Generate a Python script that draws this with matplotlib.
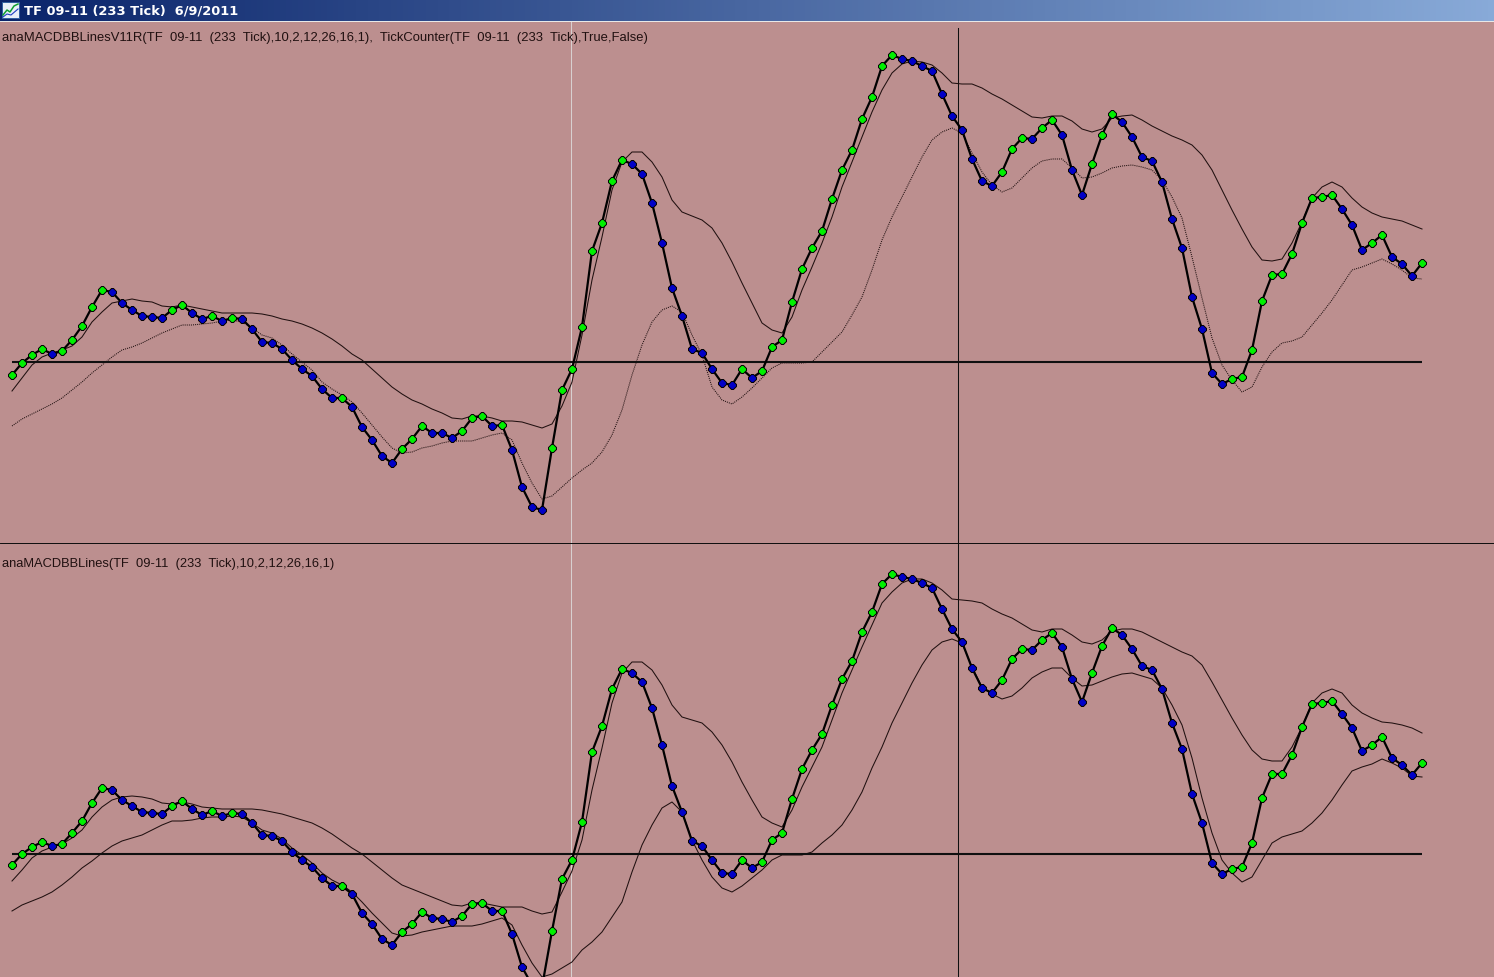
import numpy as np
import matplotlib
matplotlib.use('Agg')
import matplotlib.pyplot as plt
from matplotlib.colors import LinearSegmentedColormap
from matplotlib.patches import Rectangle

# Values (screen scale, bigger = lower on the chart)
macd_top = [375, 363, 355, 349, 354, 351, 340, 326, 307, 290, 292, 303, 310, 316, 317, 318, 310, 305, 313, 319,
            316, 321, 318, 319, 329, 342, 343, 349, 360, 369, 376, 389, 398, 398, 407, 427, 440, 456, 463, 449,
            439, 426, 433, 433, 438, 431, 418, 416, 426, 425, 450, 487, 507, 510, 448, 390, 369, 327, 251, 223,
            181, 160, 164, 174, 203, 243, 288, 316, 349, 353, 369, 383, 385, 369, 378, 371, 347, 340, 302, 269,
            248, 231, 199, 170, 150, 119, 97, 66, 55, 59, 61, 66, 71, 94, 116, 130, 159, 181, 186, 172,
            149, 138, 139, 128, 120, 135, 170, 195, 164, 135, 114, 122, 137, 157, 161, 182, 219, 248, 297, 329,
            373, 384, 379, 377, 350, 301, 275, 274, 254, 223, 198, 197, 195, 209, 225, 250, 243, 235, 257, 264,
            276, 263]
upper_top = [391, 378, 365, 357, 353, 350, 346, 337, 322, 312, 303, 301, 299, 301, 302, 306, 307, 305, 307, 309,
             311, 313, 313, 313, 313, 314, 316, 319, 321, 324, 328, 333, 339, 346, 354, 360, 369, 378, 387, 394,
             400, 404, 409, 413, 418, 419, 416, 416, 418, 421, 421, 422, 425, 428, 424, 406, 382, 335, 280, 237,
             190, 162, 152, 152, 162, 177, 200, 212, 216, 220, 228, 243, 262, 283, 303, 323, 330, 333, 317, 290,
             267, 243, 217, 187, 162, 137, 112, 90, 73, 64, 61, 62, 65, 73, 83, 84, 84, 88, 94, 99,
             105, 111, 117, 118, 116, 116, 121, 129, 132, 129, 118, 116, 115, 120, 126, 131, 136, 140, 145, 155,
             170, 190, 210, 229, 247, 260, 261, 259, 243, 222, 198, 187, 182, 187, 198, 207, 213, 217, 219, 221,
             225, 229]
lower_top = [426, 419, 414, 409, 404, 398, 390, 382, 373, 365, 357, 350, 347, 343, 338, 333, 329, 325, 325, 324,
             323, 321, 320, 322, 328, 335, 338, 345, 354, 362, 370, 382, 389, 395, 402, 413, 425, 437, 448, 453,
             452, 448, 446, 443, 441, 441, 441, 438, 435, 433, 440, 463, 483, 499, 496, 487, 478, 470, 463, 452,
             435, 410, 375, 345, 322, 310, 306, 312, 335, 355, 387, 400, 404, 397, 388, 378, 368, 363, 363, 363,
             362, 352, 342, 332, 315, 297, 270, 240, 217, 197, 177, 157, 140, 132, 128, 133, 153, 172, 185, 192,
             188, 178, 168, 161, 159, 159, 168, 178, 177, 173, 168, 166, 165, 167, 170, 180, 197, 218, 257, 298,
             338, 365, 380, 392, 387, 367, 352, 343, 341, 337, 325, 313, 300, 285, 270, 267, 263, 259, 264, 270,
             278, 279]

macd_bot = [865, 854, 847, 842, 846, 844, 833, 821, 803, 788, 790, 800, 806, 812, 813, 814, 806, 801, 809, 815,
            811, 816, 813, 814, 823, 835, 836, 841, 852, 860, 867, 878, 886, 886, 894, 913, 924, 939, 945, 932,
            924, 912, 918, 919, 922, 916, 904, 903, 911, 911, 934, 967, 985, 987, 931, 879, 860, 822, 752, 726,
            689, 669, 673, 682, 708, 745, 786, 812, 841, 846, 860, 873, 874, 860, 868, 862, 840, 833, 799, 769,
            750, 734, 705, 679, 661, 632, 612, 584, 574, 577, 579, 583, 588, 609, 629, 642, 668, 688, 693, 680,
            659, 649, 650, 640, 633, 647, 679, 702, 673, 646, 628, 635, 649, 666, 670, 689, 723, 749, 794, 823,
            863, 874, 869, 867, 843, 798, 774, 774, 755, 727, 704, 703, 701, 714, 728, 751, 745, 737, 758, 765,
            775, 763]
upper_bot = [881, 870, 858, 851, 847, 844, 838, 830, 817, 807, 800, 797, 796, 797, 799, 803, 804, 802, 804, 807,
             808, 809, 809, 809, 809, 810, 812, 814, 817, 820, 823, 828, 834, 841, 848, 854, 862, 870, 878, 885,
             889, 893, 897, 901, 905, 906, 903, 903, 905, 907, 907, 907, 911, 914, 912, 892, 871, 840, 790, 748,
             703, 673, 662, 662, 670, 685, 705, 717, 720, 723, 732, 745, 762, 782, 800, 817, 823, 827, 810, 787,
             767, 747, 720, 693, 670, 647, 625, 603, 592, 583, 579, 579, 583, 590, 599, 600, 601, 603, 609, 614,
             618, 624, 630, 632, 629, 629, 635, 642, 644, 640, 631, 629, 629, 632, 637, 642, 647, 652, 656, 665,
             682, 700, 718, 735, 750, 759, 761, 761, 747, 727, 703, 693, 689, 693, 705, 713, 718, 722, 723, 725,
             728, 733]
lower_bot = [911, 905, 901, 897, 892, 885, 877, 868, 861, 853, 846, 841, 838, 835, 830, 825, 821, 821, 820, 818,
             817, 817, 816, 817, 823, 830, 833, 839, 848, 855, 863, 873, 880, 885, 892, 902, 913, 923, 933, 936,
             935, 932, 930, 928, 926, 926, 926, 924, 921, 918, 925, 945, 963, 977, 974, 968, 962, 950, 942, 932,
             917, 902, 872, 845, 825, 808, 802, 812, 840, 860, 877, 888, 892, 886, 878, 870, 860, 855, 855, 855,
             852, 843, 835, 825, 810, 792, 768, 747, 723, 703, 683, 665, 650, 642, 639, 643, 667, 687, 694, 699,
             696, 688, 678, 672, 668, 668, 678, 686, 685, 681, 677, 674, 673, 676, 679, 688, 705, 725, 758, 798,
             833, 860, 873, 882, 877, 860, 843, 837, 834, 831, 823, 813, 800, 785, 771, 767, 764, 759, 763, 768,
             776, 777]

# bars where the MACD dot is green, the others are blue
green_bars = [0, 1, 2, 3, 5, 6, 7, 8, 9, 16, 17, 20, 22, 33, 39, 40, 41, 45, 46, 47, 49, 54, 55, 56, 57, 58, 59, 60, 61,
              73, 75, 76, 77, 78, 79, 80, 81, 82, 83, 84, 85, 86, 87, 88, 99, 100, 101, 103, 104, 108, 109, 110,
              122, 123, 124, 125, 126, 127, 128, 129, 130, 131, 132, 136, 137, 141]

title_text = 'TF 09-11 (233 Tick)  6/9/2011'
label_top = 'anaMACDBBLinesV11R(TF  09-11  (233  Tick),10,2,12,26,16,1),  TickCounter(TF  09-11  (233  Tick),True,False)'
label_bot = 'anaMACDBBLines(TF  09-11  (233  Tick),10,2,12,26,16,1)'

zero_top = 362
zero_bot = 854
cursor_bar = 94.6
light_bar = 55.9

W, H = 1494, 977
BG = '#BC8F8F'
GREEN = '#00F000'
BLUE = '#0000C8'

bars = np.arange(len(macd_top))
is_green = np.isin(bars, green_bars)

fig = plt.figure(figsize=(W / 100, H / 100), dpi=100, facecolor=BG)


def panel(y0, y1):
    # one pane, x in bars and y on the screenshot scale
    ax = fig.add_axes([0, 1 - y1 / H, 1, (y1 - y0) / H])
    ax.set_xlim(-1.2, 148.2)
    ax.set_ylim(y1, y0)
    ax.set_facecolor(BG)
    ax.axis('off')
    return ax


def draw_pane(ax, macd, upper, lower, zero, lower_style):
    macd = np.array(macd)
    ax.plot(bars, lower, color='#201010', lw=0.75, ls=lower_style, zorder=2)
    ax.plot(bars, upper, color='#201010', lw=0.75, zorder=2)
    ax.plot([0, 141], [zero, zero], color='#101010', lw=1.5, zorder=3, solid_capstyle='butt')
    ax.plot(bars, macd, color='black', lw=1.6, zorder=4)
    ax.plot(bars[is_green], macd[is_green], ls='none', marker='8', ms=5.6, mfc=GREEN, mec='black', mew=0.7, zorder=5)
    ax.plot(bars[~is_green], macd[~is_green], ls='none', marker='8', ms=5.6, mfc=BLUE, mec='black', mew=0.7, zorder=5)


ax_top = panel(22, 543)
ax_bot = panel(544, 977)

draw_pane(ax_top, macd_top, upper_top, lower_top, zero_top, (0, (1, 1)))
draw_pane(ax_bot, macd_bot, upper_bot, lower_bot, zero_bot, '-')

# crosshair and the light cursor line go over both panes
for ax in (ax_top, ax_bot):
    ax.axvline(light_bar, color='#D8D0D0', lw=0.75, zorder=1)
ax_top.plot([cursor_bar, cursor_bar], [28, 543], color='#101010', lw=0.75, zorder=1)
ax_bot.axvline(cursor_bar, color='#101010', lw=0.75, zorder=1)

# separator between panes
sep = fig.add_axes([0, 1 - 544 / H, 1, 1 / H])
sep.axis('off')
sep.add_patch(Rectangle((0, 0), 1, 1, color='#101010', transform=sep.transAxes))

ax_top.text(2 / W, 1 - 16 / 521, label_top, transform=ax_top.transAxes, fontsize=9.35,
            family='Liberation Sans', color='#201010', va='center', ha='left')
ax_bot.text(2 / W, 1 - 20 / 433, label_bot, transform=ax_bot.transAxes, fontsize=9.25,
            family='Liberation Sans', color='#201010', va='center', ha='left')

# title bar with its gradient
bar = fig.add_axes([0, 1 - 21 / H, 1, 21 / H])
cmap = LinearSegmentedColormap.from_list('caption', ['#0A246A', '#88AAD8'])
bar.imshow(np.linspace(0, 1, 256).reshape(1, -1), aspect='auto', cmap=cmap, extent=(0, W, 21, 0))
bar.set_xlim(0, W)
bar.set_ylim(21, 0)
bar.axis('off')
bar.text(24, 10.5, title_text, color='white', fontsize=9.35, fontweight='bold', family='DejaVu Sans', va='center')

# small window icon
bar.add_patch(Rectangle((2, 2), 17, 16, fc='#E8F0F8', ec='#3060A0', lw=0.7))
bar.plot([3, 7, 10, 14, 18], [15, 10, 12, 6, 4], color='#10A030', lw=1.1)
bar.plot([3, 7, 11, 18], [17, 14, 15, 9], color='#2040C0', lw=0.8)

white = fig.add_axes([0, 1 - 22 / H, 1, 1 / H])
white.axis('off')
white.add_patch(Rectangle((0, 0), 1, 1, color='#E8E8E8', transform=white.transAxes))

fig.savefig('out.png', dpi=100, facecolor=BG)
